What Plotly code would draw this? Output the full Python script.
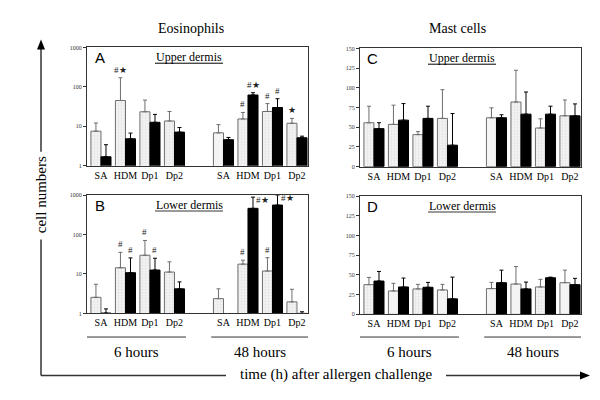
import plotly.graph_objects as go
import math

# ---------------- data ----------------
groups = ["SA", "HDM", "Dp1", "Dp2"]
times = ["6 hours", "48 hours"]
tick_labels = groups + groups

# Eosinophils, upper dermis (A)
A_grey_mean = [7.5, 45, 23.3, 13.6, 6.8, 15.3, 23.7, 11.9]
A_grey_sd = [4.6, 125, 22.7, 10.1, 4.2, 7.1, 13.9, 3.9]
A_black_mean = [1.68, 4.8, 12.6, 7.1, 4.55, 62, 29.9, 5.1]
A_black_sd = [1.72, 1.9, 7.4, 2.2, 0.65, 9, 20.1, 0.5]
A_grey_sig = ["", "#★", "", "", "", "#", "#", "★"]
A_black_sig = ["", "", "", "", "", "#★", "#", ""]

# Eosinophils, lower dermis (B)
B_grey_mean = [2.56, 14.4, 29.9, 11.2, 2.37, 17.8, 11.9, 1.96]
B_grey_sd = [2.94, 21.1, 41.1, 9.1, 1.83, 4.6, 14.1, 2.14]
B_black_mean = [1.02, 10.8, 12.6, 4.2, None, 464, 562, 1.0]
B_black_sd = [0.28, 14.8, 12.5, 2.1, None, 427, 438, 0.1]
B_grey_sig = ["", "#", "#", "", "", "#", "#", ""]
B_black_sig = ["", "#", "#", "", "", "#★", "#★", ""]

# Mast cells, upper dermis (C)
C_grey_mean = [55.7, 53.6, 40.6, 61.2, 62, 82, 49, 64.5]
C_grey_sd = [21, 24.4, 3.8, 36.4, 12.6, 40.3, 11.7, 20.1]
C_black_mean = [48.2, 59, 61.2, 27.2, 62, 66.6, 66.6, 64.5]
C_black_sd = [7.5, 21, 15.5, 40.2, 3.8, 28.1, 10.1, 15.1]

# Mast cells, lower dermis (D)
D_grey_mean = [37.7, 29.7, 32.3, 31, 32.7, 38.5, 34.8, 40.2]
D_grey_sd = [9.2, 9.7, 5.8, 7.1, 7.9, 22.2, 9.6, 15.9]
D_black_mean = [42.3, 34.8, 34.4, 19.7, 40.2, 32.3, 46.5, 37.7]
D_black_sd = [12.2, 11.3, 6.2, 27.6, 15.9, 8.7, 0.8, 8]

# ---------------- styles ----------------
SERIF = "Liberation Serif, Times New Roman, serif"
SANS = "Liberation Sans, Arial, sans-serif"
W, H = 600, 400

def PX(x):
    return x / W

def PY(y):
    return 1 - y / H

# x positions: one empty slot between the 6 h and 48 h groups
pos = [i + (1 if i >= 4 else 0) for i in range(len(tick_labels))]
BW = 0.41
XR = [-0.57, 8.45]

# grey bar fill: grid pattern ("+") or plain white ("")
A_fill = ["+", "+", "+", "+", "", "+", "+", "+"]
B_fill = ["+"] * 8
C_fill = ["+", "+", "+", "+", "", "+", "+", "+"]
D_fill = ["+", "", "+", "", "", "", "+", ""]

panels = [
    dict(name="A", xa="x", ya="y", log=True, xd=[79, 300], yd=[37, 157],
         g=(A_grey_mean, A_grey_sd, A_grey_sig), b=(A_black_mean, A_black_sd, A_black_sig),
         fill=A_fill, title="Upper dermis", under="#000", uw=1),
    dict(name="B", xa="x2", ya="y2", log=True, xd=[79, 300], yd=[187, 307],
         g=(B_grey_mean, B_grey_sd, B_grey_sig), b=(B_black_mean, B_black_sd, B_black_sig),
         fill=B_fill, title="Lower dermis", under="#9a9a9a", uw=2),
    dict(name="C", xa="x3", ya="y3", log=False, xd=[352, 573], yd=[38, 158],
         g=(C_grey_mean, C_grey_sd, None), b=(C_black_mean, C_black_sd, None),
         fill=C_fill, title="Upper dermis", under="#000", uw=1),
    dict(name="D", xa="x4", ya="y4", log=False, xd=[352, 573], yd=[188, 308],
         g=(D_grey_mean, D_grey_sd, None), b=(D_black_mean, D_black_sd, None),
         fill=D_fill, title="Lower dermis", under="#9a9a9a", uw=2),
]

fig = go.Figure()
annotations = []
shapes = []

for p in panels:
    gm, gs, gsig = p["g"]
    bm, bs, bsig = p["b"]
    fig.add_trace(go.Bar(
        x=pos, y=gm, width=BW, offset=-BW, xaxis=p["xa"], yaxis=p["ya"],
        marker=dict(color="#f4f4f4", line=dict(color="#6e6e6e", width=1),
                    pattern=dict(shape=p["fill"], fgcolor="#c4c4c4", bgcolor="#f4f4f4",
                                 size=3, solidity=0.25)),
        error_y=dict(type="data", symmetric=False, array=gs, arrayminus=[0] * len(gs),
                     color="#6e6e6e", thickness=1, width=2),
        hoverinfo="skip"))
    fig.add_trace(go.Bar(
        x=pos, y=bm, width=BW, offset=0, xaxis=p["xa"], yaxis=p["ya"],
        marker=dict(color="#000", line=dict(color="#000", width=1)),
        error_y=dict(type="data", symmetric=False, array=bs, arrayminus=[0] * len(bs),
                     color="#000", thickness=1, width=2),
        hoverinfo="skip"))

    # significance marks
    for means, sds, sigs, dx in ((gm, gs, gsig, -BW / 2), (bm, bs, bsig, BW / 2)):
        if sigs is None:
            continue
        for i, s in enumerate(sigs):
            if not s or means[i] is None:
                continue
            top = means[i] + sds[i]
            yv = math.log10(top) if p["log"] else top
            if top > 500:
                annotations.append(dict(x=pos[i] + dx, y=yv, xref=p["xa"], yref=p["ya"],
                                        text=s, showarrow=False, xanchor="left", yanchor="top",
                                        xshift=1, yshift=4, font=dict(family=SERIF, size=9, color="#222")))
            else:
                annotations.append(dict(x=pos[i] + dx, y=yv, xref=p["xa"], yref=p["ya"],
                                        text=s, showarrow=False, xanchor="center", yanchor="bottom",
                                        yshift=1, font=dict(family=SERIF, size=9, color="#222")))

    # panel letter and title
    annotations.append(dict(x=PX(p["xd"][0] + 13), y=PY(p["yd"][0] + 10), xref="paper", yref="paper",
                            text=p["name"], showarrow=False, xanchor="center", yanchor="middle",
                            font=dict(family=SANS, size=15, color="#000")))
    cx = p["xd"][0] + 102
    annotations.append(dict(x=PX(cx), y=PY(p["yd"][0] + 10), xref="paper", yref="paper",
                            text=p["title"], showarrow=False, xanchor="center", yanchor="middle",
                            font=dict(family=SERIF, size=12, color="#000")))
    shapes.append(dict(type="line", xref="paper", yref="paper",
                       x0=PX(cx - 34), x1=PX(cx + 34), y0=PY(p["yd"][0] + 16), y1=PY(p["yd"][0] + 16),
                       line=dict(color=p["under"], width=p["uw"])))

    # axes
    ax_id = p["xa"].replace("x", "xaxis")
    ay_id = p["ya"].replace("y", "yaxis")
    xaxis = dict(domain=[PX(p["xd"][0]), PX(p["xd"][1])], range=XR, tickvals=pos, ticktext=tick_labels,
                 ticks="", showline=True, linecolor="#333", linewidth=1, mirror=True,
                 showgrid=False, zeroline=False, tickfont=dict(family=SERIF, size=10, color="#000"),
                 anchor=p["ya"])
    if p["log"]:
        yaxis = dict(type="log", range=[0, 3], tickvals=[1, 10, 100, 1000],
                     ticktext=["1", "10", "100", "1000"])
    else:
        yaxis = dict(range=[0, 150], tickvals=[0, 25, 50, 75, 100, 125, 150])
    yaxis.update(domain=[PY(p["yd"][1]), PY(p["yd"][0])], ticks="outside", ticklen=3, tickwidth=1,
                 tickcolor="#333", showline=True, linecolor="#333", linewidth=1, mirror=True,
                 showgrid=False, zeroline=False, tickfont=dict(family=SERIF, size=6, color="#333"),
                 anchor=p["xa"])
    fig.update_layout(**{ax_id: xaxis, ay_id: yaxis})

# time group lines and labels under B and D
for xa in ("x2", "x4"):
    for (x0, x1), t in zip(([-0.57, 3.47], [4.5, 8.45]), times):
        shapes.append(dict(type="line", xref=xa, yref="paper", x0=x0, x1=x1,
                           y0=PY(331), y1=PY(331), line=dict(color="#333", width=1)))
        annotations.append(dict(x=(x0 + x1) / 2, y=PY(346), xref=xa, yref="paper", text=t,
                                showarrow=False, xanchor="center", yanchor="middle",
                                font=dict(family=SERIF, size=15, color="#000")))

# column headers
annotations.append(dict(x=PX(183), y=PY(18), xref="paper", yref="paper", text="Eosinophils",
                        showarrow=False, xanchor="center", yanchor="middle",
                        font=dict(family=SERIF, size=14, color="#000")))
annotations.append(dict(x=PX(449), y=PY(18), xref="paper", yref="paper", text="Mast cells",
                        showarrow=False, xanchor="center", yanchor="middle",
                        font=dict(family=SERIF, size=14, color="#000")))

# big axes arrows
LX, LY = 33, 370
line_style = dict(color="#333", width=1.5)
shapes += [
    dict(type="line", xref="paper", yref="paper", x0=PX(LX), x1=PX(LX), y0=PY(LY), y1=PY(232), line=line_style),
    dict(type="line", xref="paper", yref="paper", x0=PX(LX), x1=PX(LX), y0=PY(143), y1=PY(37), line=line_style),
    dict(type="path", xref="paper", yref="paper",
         path=f"M {PX(LX-4)},{PY(39)} L {PX(LX+4)},{PY(39)} L {PX(LX)},{PY(29)} Z",
         fillcolor="#000", line=dict(color="#000", width=0)),
    dict(type="line", xref="paper", yref="paper", x0=PX(LX), x1=PX(218), y0=PY(LY), y1=PY(LY), line=line_style),
    dict(type="line", xref="paper", yref="paper", x0=PX(438), x1=PX(574), y0=PY(LY), y1=PY(LY), line=line_style),
    dict(type="path", xref="paper", yref="paper",
         path=f"M {PX(572)},{PY(LY-4)} L {PX(572)},{PY(LY+4)} L {PX(582)},{PY(LY)} Z",
         fillcolor="#000", line=dict(color="#000", width=0)),
]
annotations.append(dict(x=PX(LX), y=PY(187), xref="paper", yref="paper", text="cell numbers",
                        textangle=-90, showarrow=False, xanchor="center", yanchor="middle",
                        font=dict(family=SERIF, size=15, color="#000")))
annotations.append(dict(x=PX(328), y=PY(LY - 1), xref="paper", yref="paper",
                        text="time (h) after allergen challenge", showarrow=False,
                        xanchor="center", yanchor="middle", font=dict(family=SERIF, size=15, color="#000")))

fig.update_layout(width=W, height=H, margin=dict(l=0, r=0, t=0, b=0),
                  paper_bgcolor="white", plot_bgcolor="white", showlegend=False,
                  barmode="overlay", annotations=annotations, shapes=shapes)

fig.write_html("out.html")
